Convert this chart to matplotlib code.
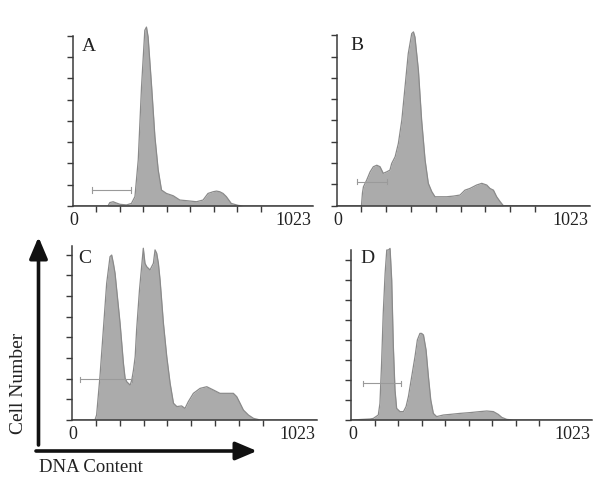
import matplotlib
matplotlib.use("Agg")
import matplotlib.pyplot as plt
import numpy as np

W, H = 604, 478

# ---- data (DNA content channel, relative cell count in tick units) ----
a_x = [0, 150, 158, 172, 186, 201, 229, 250, 265, 279, 293, 307, 314, 321, 336, 350, 364, 378,
       399, 428, 456, 484, 527, 555, 576, 598, 612, 626, 640, 654, 675, 704, 725, 1023]
a_y = [0, 0, 0.16, 0.2, 0.14, 0.08, 0.05, 0.12, 0.44, 2.16, 5.6, 8.25, 8.4, 7.94, 5.6, 3.25, 1.69, 0.75,
       0.59, 0.48, 0.28, 0.25, 0.2, 0.28, 0.59, 0.67, 0.7, 0.67, 0.59, 0.44, 0.12, 0.03, 0, 0]

b_x = [0, 100, 104, 108, 121, 135, 148, 162, 175, 188, 202, 215, 222, 236, 249, 263, 276, 289, 303,
       310, 316, 330, 343, 357, 370, 384, 397, 417, 444, 471, 498, 518, 538, 565, 586, 606, 619, 633,
       646, 660, 673, 1023]
b_y = [0, 0, 0.6, 0.89, 1.2, 1.59, 1.83, 1.9, 1.83, 1.52, 1.59, 1.67, 1.98, 2.3, 2.92, 4.02, 5.58, 7.14, 8.08,
       8.16, 7.92, 6.36, 4.02, 2.14, 1.05, 0.66, 0.42, 0.42, 0.42, 0.45, 0.5, 0.73, 0.81, 0.97, 1.05, 0.97, 0.81, 0.73,
       0.42, 0.19, 0, 0]

c_x = [0, 97, 104, 118, 132, 146, 160, 167, 174, 181, 188, 202, 216, 223, 230, 237, 244, 251, 258, 265,
       271, 283, 292, 299, 306, 313, 327, 341, 348, 355, 362, 369, 383, 397, 411, 425, 439, 459, 473, 487,
       508, 536, 564, 592, 619, 647, 675, 689, 703, 717, 738, 759, 787, 1023]
c_y = [0, 0, 0.24, 2.1, 4.35, 6.61, 7.9, 7.98, 7.58, 7.1, 6.29, 4.68, 2.74, 2.02, 1.85, 1.77, 1.69, 1.94, 2.42, 3.06,
       4.35, 6.29, 7.42, 8.31, 7.58, 7.42, 7.26, 7.58, 8.23, 8.06, 7.58, 6.77, 4.68, 3.06, 1.77, 0.81, 0.65, 0.68, 0.56, 0.89,
       1.29, 1.53, 1.61, 1.45, 1.29, 1.29, 1.29, 1.13, 0.81, 0.48, 0.24, 0.08, 0, 0]

d_x = [0, 81, 95, 116, 123, 130, 137, 145, 152, 159, 166, 173, 180, 187, 194, 208, 223, 234, 244, 258,
       272, 282, 293, 300, 308, 319, 329, 339, 350, 364, 393, 421, 463, 506, 548, 577, 605, 626, 641, 662,
       690, 1023]
d_y = [0, 0.05, 0.08, 0.25, 0.83, 2.83, 5.33, 7.33, 8.5, 8.5, 8.58, 7.0, 3.67, 1.5, 0.58, 0.42, 0.42, 0.67, 1.17, 2.17,
       3.17, 4.0, 4.33, 4.33, 4.25, 3.5, 2.17, 1.0, 0.33, 0.17, 0.25, 0.28, 0.33, 0.37, 0.42, 0.45, 0.42, 0.28, 0.13, 0.03,
       0, 0]

panel_labels = ["A", "B", "C", "D"]
gates = [(81, 248, 0.75), (81, 202, 1.12), (35, 250, 1.98), (50, 212, 1.83)]
x_ticks = [100, 200, 300, 400, 500, 600, 700, 800]
y_ticks = [0, 1, 2, 3, 4, 5, 6, 7, 8]
x_max = 1023

series = [(a_x, a_y), (b_x, b_y), (c_x, c_y), (d_x, d_y)]

# pixel geometry: x0, x1, baseline, unit (px per tick), spine top (units)
geom = [(72.7, 313.0, 206.0, 21.3, 8.0),
        (336.7, 590.0, 205.7, 21.3, 8.0),
        (71.7, 316.7, 420.0, 20.67, 8.4),
        (351.0, 591.7, 420.0, 20.0, 8.5)]
# panel letter positions (axes-x fraction of left edge, y in tick units)
label_pos = [(0.037, 7.5), (0.053, 7.53), (0.027, 7.8), (0.037, 8.05)]

plt.rcParams['font.family'] = ['Liberation Serif', 'DejaVu Serif']

fig = plt.figure(figsize=(W / 100, H / 100), dpi=100)
fig.patch.set_facecolor('white')

axc = '#3a3a3a'
for (xs, ys), (x0, x1, base, unit, stop), lab, (g0, g1, gy), (lx, ly) in zip(
        series, geom, panel_labels, gates, label_pos):
    ymax = 9.2
    ax = fig.add_axes([x0 / W, 1 - base / H, (x1 - x0) / W, ymax * unit / H])
    ax.set_xlim(0, x_max)
    ax.set_ylim(0, ymax)
    ax.fill_between(xs, ys, 0, color='#ababab', linewidth=0)
    ax.plot(xs, ys, color='#8a8a8a', linewidth=0.9)
    for s in ['top', 'right']:
        ax.spines[s].set_visible(False)
    ax.spines['left'].set_bounds(0, stop)
    ax.spines['left'].set_color(axc)
    ax.spines['bottom'].set_color(axc)
    ax.spines['left'].set_linewidth(1.1)
    ax.spines['bottom'].set_linewidth(1.1)
    ax.set_xticks(x_ticks)
    ax.set_yticks(y_ticks)
    ax.tick_params(axis='both', direction='out', length=4, width=1, color=axc,
                   labelbottom=False, labelleft=False)
    ax.patch.set_alpha(0)
    ax.annotate("0", xy=(0.0, 0), xycoords='axes fraction', xytext=(1, -4.5),
                textcoords='offset points', fontsize=13, ha='center', va='top', color='#222')
    ax.annotate("1023", xy=(1.0, 0), xycoords='axes fraction', xytext=(-1, -4.5),
                textcoords='offset points', fontsize=13, ha='right', va='top', color='#222')
    ax.text(lx, ly, lab, fontsize=14, ha='left', va='center', color='#222',
            transform=ax.get_yaxis_transform())
    # gate marker
    ax.plot([g0, g1], [gy, gy], color='#9a9a9a', linewidth=0.8)
    ax.plot([g0, g0], [gy - 0.12, gy + 0.12], color='#9a9a9a', linewidth=0.8)
    ax.plot([g1, g1], [gy - 0.12, gy + 0.12], color='#9a9a9a', linewidth=0.8)

# big axis arrows
fig.add_artist(matplotlib.patches.FancyArrowPatch(
    (38.5 / W, 1 - 445 / H), (38.5 / W, 1 - 237 / H), transform=fig.transFigure,
    arrowstyle='-|>,head_length=13,head_width=5.5', color='#111', linewidth=2.6,
    shrinkA=0, shrinkB=0, mutation_scale=1))
fig.add_artist(matplotlib.patches.FancyArrowPatch(
    (36 / W, 1 - 451 / H), (257 / W, 1 - 451 / H), transform=fig.transFigure,
    arrowstyle='-|>,head_length=13,head_width=5.5', color='#111', linewidth=2.6,
    shrinkA=0, shrinkB=0, mutation_scale=1))

fig.text(19 / W, 1 - 383 / H, "Cell Number", rotation=90, fontsize=14,
         ha='center', va='center', color='#222')
fig.text(39 / W, 1 - 468 / H, "DNA Content", fontsize=13.5,
         ha='left', va='center', color='#222')

fig.savefig("out.png", dpi=100, facecolor='white')
